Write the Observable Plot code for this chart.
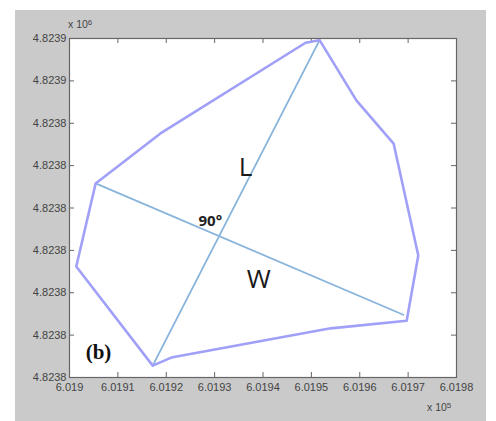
<!DOCTYPE html>
<html>
<head>
<meta charset="utf-8">
<script src="https://cdn.jsdelivr.net/npm/d3@7"></script>
<script src="https://cdn.jsdelivr.net/npm/@observablehq/plot@0.6"></script>
<style>
  html, body { margin: 0; padding: 0; background: #ffffff; }
  #wrap { position: relative; width: 496px; height: 421px; overflow: hidden; }
  #bg { position: absolute; left: 15px; top: 10px; width: 471px; height: 411px; background: #cacaca; }
  #chart { position: absolute; left: 0; top: 0; }
  .exp { position: absolute; font-family: "Liberation Sans", Arial, sans-serif; font-size: 10.5px; color: #444; }
  .exp sup { font-size: 8px; position: relative; top: -3px; vertical-align: baseline; }
</style>
</head>
<body>
<div id="wrap">
  <div id="bg"></div>
  <div id="chart"></div>
  <div class="exp" style="left:68px; top:18px;">x 10<sup>6</sup></div>
  <div class="exp" style="left:427px; top:401px;">x 10<sup>5</sup></div>
</div>
<script>
// Axis ticks and labels
const xTicks = [601900, 601910, 601920, 601930, 601940, 601950, 601960, 601970, 601980];
const xTickLabels = ["6.019", "6.0191", "6.0192", "6.0193", "6.0194", "6.0195", "6.0196", "6.0197", "6.0198"];
const yTicks = [4823820, 4823825, 4823830, 4823835, 4823840, 4823845, 4823850, 4823855, 4823860];
const yTickLabels = ["4.8238", "4.8238", "4.8238", "4.8238", "4.8238", "4.8238", "4.8238", "4.8239", "4.8239"];

// Boundary polygon (closed)
const boundaryX = [601905.4, 601918.8, 601948.8, 601951.7, 601959.3, 601967.0, 601972.1, 601969.7, 601954.0, 601921.3, 601917.2, 601901.4, 601905.4];
const boundaryY = [4823842.9, 4823848.8, 4823859.5, 4823859.8, 4823852.7, 4823847.6, 4823834.4, 4823826.7, 4823825.8, 4823822.4, 4823821.4, 4823833.1, 4823842.9];

// Length (L) and width (W) axes
const lineNames = ["L", "L", "W", "W"];
const lineX = [601917.2, 601951.7, 601905.4, 601969.0];
const lineY = [4823821.4, 4823859.8, 4823842.9, 4823827.4];

// Annotations
const noteText = ["L", "W", "90°", "(b)"];
const noteX = [601936.4, 601939.1, 601929.1, 601906.0];
const noteY = [4823844.7, 4823831.6, 4823838.4, 4823823.0];

const xDomain = [601900, 601980];
const yDomain = [4823820, 4823860];
const W = 496, H = 421, mL = 69, mR = 40, mT = 38, mB = 44;
const tickPx = 5;
const tx = tickPx * (xDomain[1] - xDomain[0]) / (W - mL - mR);
const ty = tickPx * (yDomain[1] - yDomain[0]) / (H - mT - mB);

const boundary = boundaryX.map((x, i) => ({x, y: boundaryY[i]}));
const axesLines = lineX.map((x, i) => ({name: lineNames[i], x, y: lineY[i]}));
const notes = noteText.map((t, i) => ({t, x: noteX[i], y: noteY[i]}));
const xLab = new Map(xTicks.map((d, i) => [d, xTickLabels[i]]));
const yLab = new Map(yTicks.map((d, i) => [d, yTickLabels[i]]));

const plot = Plot.plot({
  width: W,
  height: H,
  marginLeft: mL,
  marginRight: mR,
  marginTop: mT,
  marginBottom: mB,
  x: {domain: xDomain},
  y: {domain: yDomain},
  style: {background: "transparent", fontFamily: "'Liberation Sans', Arial, sans-serif", fontSize: "11px", color: "#444"},
  marks: [
    Plot.frame({fill: "white", stroke: "none"}),
    // inward tick marks on all four sides
    Plot.ruleX(xTicks.slice(1, -1), {x: d => d, y1: yDomain[0], y2: yDomain[0] + ty, stroke: "#666"}),
    Plot.ruleX(xTicks.slice(1, -1), {x: d => d, y1: yDomain[1], y2: yDomain[1] - ty, stroke: "#666"}),
    Plot.ruleY(yTicks.slice(1, -1), {y: d => d, x1: xDomain[0], x2: xDomain[0] + tx, stroke: "#666"}),
    Plot.ruleY(yTicks.slice(1, -1), {y: d => d, x1: xDomain[1], x2: xDomain[1] - tx, stroke: "#666"}),
    Plot.line(axesLines, {x: "x", y: "y", z: "name", stroke: "#88b4dc", strokeWidth: 1.8}),
    Plot.line(boundary, {x: "x", y: "y", stroke: "#a0a0f8", strokeWidth: 2.6, strokeLinejoin: "round"}),
    Plot.axisX({anchor: "bottom", label: null, ticks: xTicks, tickSize: 0, tickPadding: 6, tickFormat: d => xLab.get(d), fill: "#444"}),
    Plot.axisY({anchor: "left", label: null, ticks: yTicks, tickSize: 0, tickPadding: 3, tickFormat: d => yLab.get(d), fill: "#444"}),
    Plot.frame({stroke: "#666", strokeWidth: 1.2}),
    Plot.text(notes.filter(d => d.t === "L" || d.t === "W"), {x: "x", y: "y", text: "t", fontSize: 26, fill: "#1a1a1a", fontFamily: "'Open Sans', 'DejaVu Sans', sans-serif"}),
    Plot.text(notes.filter(d => d.t === "90°"), {x: "x", y: "y", text: "t", fontSize: 15, fontWeight: "bold", fill: "#222", fontFamily: "'Open Sans', 'DejaVu Sans', sans-serif"}),
    Plot.text(notes.filter(d => d.t === "(b)"), {x: "x", y: "y", text: "t", fontSize: 21, fontWeight: "bold", fill: "#111", fontFamily: "'Liberation Serif', 'DejaVu Serif', serif"})
  ]
});
document.getElementById("chart").appendChild(plot);
</script>
</body>
</html>
